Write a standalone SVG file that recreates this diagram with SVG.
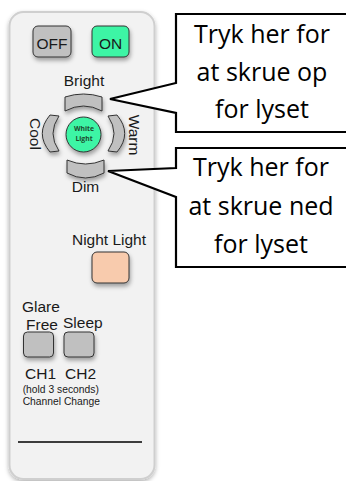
<svg xmlns="http://www.w3.org/2000/svg" width="346" height="481" viewBox="0 0 346 481">
<defs>
<filter id="sh" x="-40%" y="-40%" width="180%" height="200%"><feDropShadow dx="1" dy="3" stdDeviation="2.2" flood-color="#000" flood-opacity="0.35"/></filter>
<filter id="bodysh" x="-10%" y="-5%" width="120%" height="110%"><feDropShadow dx="0" dy="2" stdDeviation="2" flood-color="#000" flood-opacity="0.3"/></filter>
</defs>
<style>
.lbl{font-family:"Liberation Sans",Arial,sans-serif;font-size:15.5px;fill:#1a1a1a}
.small{font-family:"Liberation Sans",Arial,sans-serif;font-size:10.3px;fill:#1a1a1a}
.btn{stroke:#333;stroke-width:1;filter:url(#sh)}
.gray{fill:#c0c0c0}
.green{fill:#3df5a5}
.call{fill:#fff;stroke:#000;stroke-width:2.2;stroke-linejoin:miter}
.ct{font-family:"Open Sans","Noto Sans",sans-serif;font-size:25px;fill:#000;text-anchor:middle}
.wl{font-family:"Open Sans","Noto Sans",sans-serif;font-size:6.8px;font-weight:bold;fill:#1d4a2e;text-anchor:middle}
</style>
<g id="remote">
<rect x="9.5" y="12" width="145" height="467" rx="14" fill="#f2f2f2" stroke="#cfcfcf" stroke-width="2" filter="url(#bodysh)"/>
<line x1="18" y1="442" x2="142" y2="442" stroke="#000" stroke-width="1.5"/>
</g>
<g id="off">
<rect class="btn gray" x="33" y="26" width="38" height="31" rx="5"/>
<text class="lbl" x="52" y="48.5" text-anchor="middle" font-size="15">OFF</text>
</g>
<g id="on">
<rect class="btn green" x="92" y="26" width="37" height="31" rx="5"/>
<text class="lbl" x="110.5" y="48.5" text-anchor="middle" font-size="15">ON</text>
</g>
<g id="bright">
<text class="lbl" x="84" y="86" text-anchor="middle">Bright</text>
<path class="btn gray" d="M65,97 Q83.5,91 102,97 L102,111 Q83.5,101 65,111 Z"/>
</g>
<g id="dim">
<path class="btn gray" d="M67,160 Q85.5,168 104,160 L104,173 Q85.5,183 67,173 Z"/>
<text class="lbl" x="85.5" y="191.5" text-anchor="middle">Dim</text>
</g>
<g id="cool">
<path class="btn gray" d="M50,115 Q34.6,133.5 50,152 L59,151 Q47,133.5 59,116 Z"/>
<text class="lbl" x="30" y="134" text-anchor="middle" transform="rotate(90 30 134)">Cool</text>
</g>
<g id="warm">
<path class="btn gray" d="M117,115 Q132.4,133.5 117,152 L108,151 Q120,133.5 108,116 Z"/>
<text class="lbl" x="128.5" y="135" text-anchor="middle" transform="rotate(90 128.5 135)">Warm</text>
</g>
<g id="white-light">
<circle class="btn green" cx="83.5" cy="134.5" r="17.5"/>
<text class="wl" x="84" y="131">White</text>
<text class="wl" x="84" y="141">Light</text>
</g>
<g id="night-light">
<text class="lbl" x="109" y="245" text-anchor="middle">Night Light</text>
<rect class="btn" fill="#f8cbad" x="92" y="252" width="37" height="31" rx="5"/>
</g>
<g id="ch1">
<text class="lbl" x="22" y="311.7">Glare</text>
<text class="lbl" x="26" y="330">Free</text>
<rect class="btn gray" x="23.5" y="332" width="30" height="25" rx="4"/>
<text class="lbl" x="25" y="379" font-size="15">CH1</text>
</g>
<g id="ch2">
<text class="lbl" x="63" y="328">Sleep</text>
<rect class="btn gray" x="64" y="332" width="30" height="25" rx="4"/>
<text class="lbl" x="65" y="379" font-size="15">CH2</text>
</g>
<g id="channel-note">
<text class="small" x="22.7" y="392.7">(hold 3 seconds)</text>
<text class="small" x="22.7" y="405.3">Channel Change</text>
</g>
<g id="callout-up">
<path class="call" d="M176,14 H350 V132 H176 V113 L110,99 L176,83 Z"/>
<text class="ct" x="262" y="43">Tryk her for</text>
<text class="ct" x="262" y="81">at skrue op</text>
<text class="ct" x="262" y="118">for lyset</text>
</g>
<g id="callout-down">
<path class="call" d="M176,148 H350 V267 H176 V197 L108,171 L176,168 Z"/>
<text class="ct" x="261" y="176">Tryk her for</text>
<text class="ct" x="261" y="215">at skrue ned</text>
<text class="ct" x="261" y="253">for lyset</text>
</g>
<g id="connectors"></g>
</svg>
